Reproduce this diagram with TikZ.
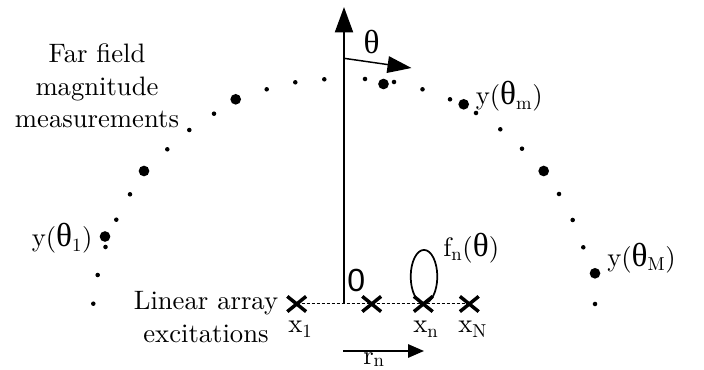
\documentclass[tikz,border=0pt]{standalone}
\usepackage{fontspec}
\setmainfont{lmroman10-regular.otf}   % 固定 10pt 光学尺寸（源字宽）
\newfontfamily\grkfont[Scale=1.25]{Liberation Serif}
\newfontfamily\digitfont{Liberation Sans}
\usetikzlibrary{arrows.meta,shapes.misc}
\newcommand{\thup}{{\grkfont θ}}

\begin{document}
\begin{tikzpicture}[x=0.75pt,y=-0.75pt,line cap=butt,line join=miter,
                    font=\fontsize{20pt}{24.4pt}\selectfont,
                    elem/.style={cross out,draw,line width=2.6pt,inner sep=0pt,
                                 minimum width=11.5pt,minimum height=8.8pt},
                    lbl/.style={inner sep=0pt}]
  \path[use as bounding box] (0,0) rectangle (704,370);   % bbox＝源画布 704×370 px（1 单位＝1px，y 向下）
  % ---- 坐标轴与角度箭头 ----
  \coordinate (O)   at (344,303.5);   % 轴根，落在阵列虚线上
  \coordinate (Top) at (344,7);       % 竖轴箭尖
  \coordinate (T0)  at (344,58.3);    % θ 箭头起点
  \coordinate (T1)  at (411.5,68);    % θ 箭尖
  \draw[line width=1.5pt,-{Triangle[length=19pt,width=13.5pt]}] (O) -- (Top);
  \draw[line width=1.1pt,-{Triangle[length=18pt,width=12.5pt]}] (T0) -- (T1);
  \node[lbl] (th) at (371.7,41.7) {\thup};
  % ---- 远场测量点（大点＝标注点，小点＝其余采样） ----
  \coordinate (y1) at (105,236.5);
  \coordinate (ym) at (463.7,104.3);
  \coordinate (yM) at (595,273.3);
  \fill (y1) circle (4pt) (144,171) circle (4pt) (235.7,99.3) circle (4pt)
        (383.5,84) circle (4pt) (ym) circle (4pt) (543.7,171) circle (4pt)
        (yM) circle (4pt);
  \fill (93.3,303.7) circle (1.7pt) (97.7,275) circle (1.7pt) (105.5,247) circle (1.7pt)
        (116.3,219.7) circle (1.7pt) (130,194.3) circle (1.7pt) (167.3,149.3) circle (1.7pt)
        (189.3,130) circle (1.7pt) (214,113.7) circle (1.7pt) (266.7,89.3) circle (1.7pt)
        (295.3,82.3) circle (1.7pt) (324.3,79.3) circle (1.7pt) (365,79) circle (1.7pt)
        (394,82) circle (1.7pt) (422.5,89.3) circle (1.7pt) (450,99.3) circle (1.7pt)
        (476,113) circle (1.7pt) (500.3,129.3) circle (1.7pt) (522,148.7) circle (1.7pt)
        (559,194) circle (1.7pt) (572.7,220) circle (1.7pt) (583.3,247.3) circle (1.7pt)
        (595,304) circle (1.7pt);
  % ---- 线阵（4 个阵元 + 虚线） ----
  \node[elem] (x1) at (296.7,304) {};
  \node[elem] (x2) at (371.7,304) {};
  \node[elem] (xn) at (423.3,304) {};
  \node[elem] (xN) at (469.3,304) {};
  \draw[line width=0.75pt,dash pattern=on 2.25pt off 1.5pt] (x1.center) -- (xN.center);
  \draw[line width=1.3pt] (424,276.6) ellipse [x radius=13.3,y radius=26.7];   % 阵元方向图 f_n
  % r_n 箭头
  \coordinate (R0) at (343,351);
  \coordinate (R1) at (424,351);
  \draw[line width=1.5pt,-{Triangle[length=12pt,width=10pt]}] (R0) -- (R1);
  % ---- 标签（base west 锚点＝源字母基线左端） ----
  \node[lbl,anchor=north,align=center] (far) at (97,43.5) {Far field\\magnitude\\measurements};
  \node[lbl,anchor=north,align=center] (lin) at (206,291) {Linear array\\excitations};
  \node[lbl,anchor=base west] (ly1) at (31.5,247)  {y(\thup\textsubscript{1})};
  \node[lbl,anchor=base west] (lym) at (475.5,105) {y(\thup\textsubscript{m})};
  \node[lbl,anchor=base west] (lyM) at (607,266.5) {y(\thup\textsubscript{M})};
  \node[lbl,anchor=base west] (lfn) at (443,256.5) {f\textsubscript{n}(\thup)};
  \node[lbl,anchor=base west] (l0)  at (347,291.5) {\fontsize{24pt}{26pt}\digitfont 0};
  \node[lbl,anchor=base west] (lx1) at (288,333)   {x\textsubscript{1}};
  \node[lbl,anchor=base west] (lxn) at (413,333)   {x\textsubscript{n}};
  \node[lbl,anchor=base west] (lxN) at (458,333)   {x\textsubscript{N}};
  \node[lbl,anchor=base west] (lrn) at (363,365) {r\raisebox{-0.06em}{\fontsize{14pt}{14pt}\selectfont n}};
\end{tikzpicture}
\end{document}
